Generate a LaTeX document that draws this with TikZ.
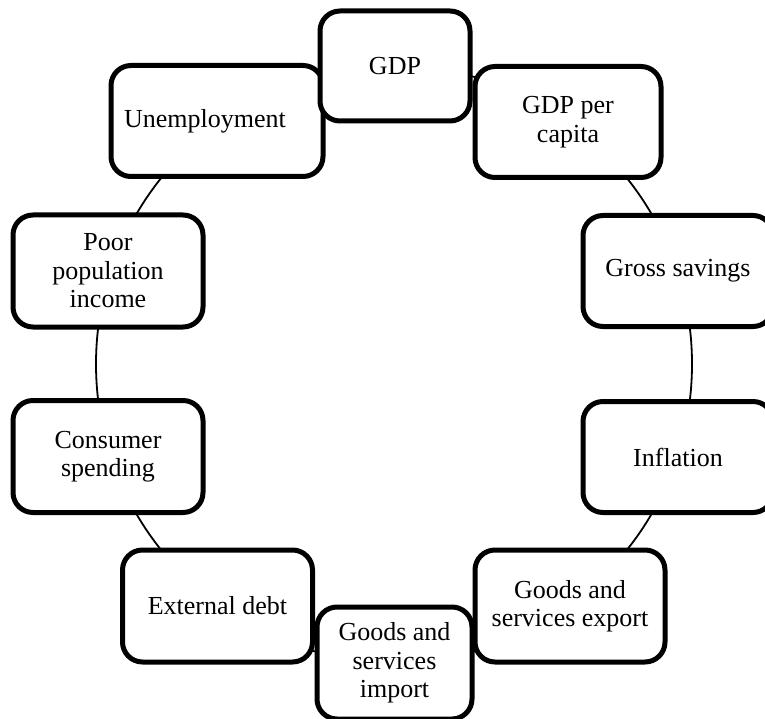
\documentclass[tikz,border=0pt]{standalone}
\usepackage{fontspec}
\setmainfont{Liberation Serif}
\begin{document}
\begin{tikzpicture}[x=1pt,y=-1pt,
  box/.style={draw, line width=5pt, rounded corners=20pt, fill=white,
    align=center, inner sep=0pt, font=\fontsize{26}{28.5}\selectfont},
  ring/.style={draw, line width=1.8pt}]
\useasboundingbox (0,0) rectangle (765,719);
\coordinate (c) at (394,364);
\draw[ring] (c) circle[radius=298];
\node[box, minimum width=212pt, minimum height=111pt] (unemp) at (217,121) {\kern-24pt Unemployment};
\node[box, minimum width=186pt, minimum height=111pt] (gdppc) at (568,122) {GDP per\\capita};
\node[box, minimum width=150pt, minimum height=110pt] (gdp) at (395,66) {GDP};
\node[box, minimum width=190pt, minimum height=111pt] (sav) at (678,271) {Gross savings};
\node[box, minimum width=190pt, minimum height=111pt] (infl) at (678,457) {Inflation};
\node[box, minimum width=190pt, minimum height=112pt] (exp) at (570,606) {Goods and\\services export};
\node[box, minimum width=190pt, minimum height=112pt] (debt) at (217.5,606) {External debt};
\node[box, minimum width=155pt, minimum height=112pt] (imp) at (394.5,663) {Goods and\\services\\import};
\node[box, minimum width=190pt, minimum height=112pt] (cons) at (108,456.5) {Consumer\\spending};
\node[box, minimum width=190pt, minimum height=112pt] (poor) at (108,271) {Poor\\population\\income};
\end{tikzpicture}
\end{document}
